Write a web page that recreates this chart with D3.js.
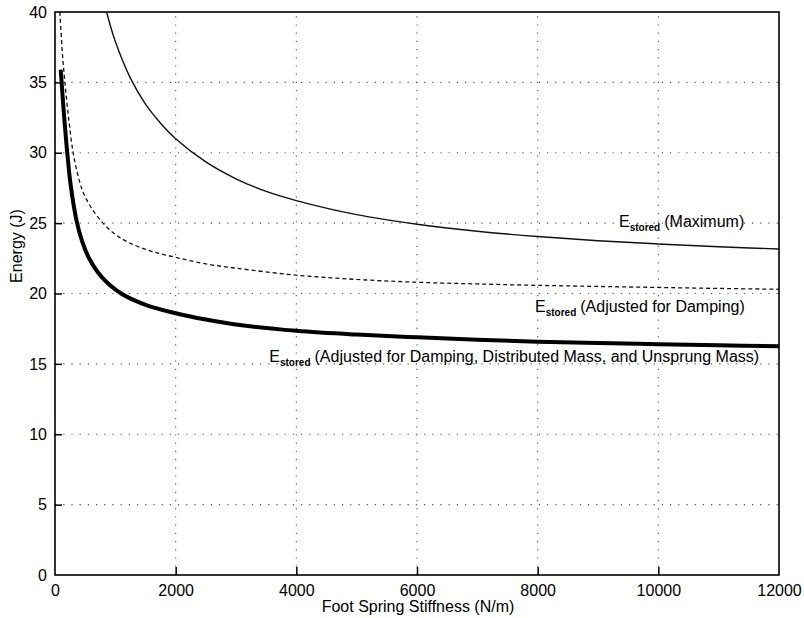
<!DOCTYPE html>
<html>
<head>
<meta charset="utf-8">
<script src="https://cdn.jsdelivr.net/npm/d3@7"></script>
<style>
  html, body { margin: 0; padding: 0; background: #fff; }
  svg { display: block; font-family: "Liberation Sans", Arial, Helvetica, sans-serif; }
</style>
</head>
<body>
<svg id="chart" width="804" height="618"></svg>
<script>
// Foot spring stiffness (N/m) and stored energy (J) for three estimates
const maxK = [855, 1000, 1250, 1500, 1750, 2000, 2500, 3000, 3500, 4000, 5000, 6000, 7000, 8000, 9000, 10000, 11000, 12000];
const maxE = [40, 37.9, 35.3, 33.45, 32.1, 31.0, 29.35, 28.15, 27.25, 26.6, 25.6, 24.92, 24.42, 24.05, 23.75, 23.52, 23.32, 23.16];

const dampK = [80, 120, 164, 230, 301, 380, 466, 600, 795, 1000, 1234, 1600, 2000, 2500, 3000, 4000, 5000, 6000, 7000, 8000, 9000, 10000, 11000, 12000];
const dampE = [40, 37.2, 35, 32.3, 30, 28.4, 27.2, 26.1, 25, 24.2, 23.6, 23.0, 22.57, 22.1, 21.8, 21.3, 21.0, 20.8, 20.68, 20.58, 20.5, 20.43, 20.36, 20.3];

const fullK = [94, 110, 140, 203, 263, 356, 450, 565, 768, 1096, 1500, 2000, 2500, 3000, 4000, 5000, 6000, 7000, 8000, 9000, 10000, 11000, 12000];
const fullE = [35.9, 35, 33.2, 30, 27.6, 25.2, 23.7, 22.5, 21.2, 20.0, 19.2, 18.6, 18.15, 17.8, 17.35, 17.08, 16.89, 16.72, 16.58, 16.48, 16.4, 16.32, 16.25];

const xTicks = [0, 2000, 4000, 6000, 8000, 10000, 12000];
const yTicks = [0, 5, 10, 15, 20, 25, 30, 35, 40];

const labelMain = ["E", "E", "E"];
const labelSub = ["stored", "stored", "stored"];
const labelRest = ["(Maximum)", "(Adjusted for Damping)", "(Adjusted for Damping, Distributed Mass, and Unsprung Mass)"];
// anchor of each annotation: [stiffness, energy] at the start of its baseline
const labelAt = [[9348, 24.72], [7956, 18.71], [3552, 15.1]];

const svg = d3.select("#chart");
const L = 55, R = 779, T = 12, B = 575;

const x = d3.scaleLinear().domain([0, 12000]).range([L, R]);
const y = d3.scaleLinear().domain([0, 40]).range([B, T]);

// dotted grid
const grid = svg.append("g").attr("stroke", "#555").attr("stroke-width", 1.1)
  .attr("stroke-dasharray", "1.2,7");
grid.selectAll(".gx").data(xTicks.slice(1, -1)).join("line")
  .attr("x1", d => x(d)).attr("x2", d => x(d)).attr("y1", B).attr("y2", T);
grid.selectAll(".gy").data(yTicks.slice(1, -1)).join("line")
  .attr("y1", d => y(d)).attr("y2", d => y(d)).attr("x1", L).attr("x2", R);

// clip curves to the plot box
svg.append("clipPath").attr("id", "plotclip").append("rect")
  .attr("x", L).attr("y", T).attr("width", R - L).attr("height", B - T);

const line = d3.line().x(d => x(d[0])).y(d => y(d[1])).curve(d3.curveCatmullRom.alpha(0.5));
const curves = svg.append("g").attr("clip-path", "url(#plotclip)").attr("fill", "none");

curves.append("path").datum(d3.zip(maxK, maxE)).attr("d", line)
  .attr("stroke", "#111").attr("stroke-width", 1.4);
curves.append("path").datum(d3.zip(dampK, dampE)).attr("d", line)
  .attr("stroke", "#111").attr("stroke-width", 1.3).attr("stroke-dasharray", "4,3");
curves.append("path").datum(d3.zip(fullK, fullE)).attr("d", line)
  .attr("stroke", "#000").attr("stroke-width", 4);

// axes with inward ticks
const xAxis = d3.axisBottom(x).tickValues(xTicks).tickSize(-8).tickPadding(10).tickFormat(d3.format("d"));
const yAxis = d3.axisLeft(y).tickValues(yTicks).tickSize(-7).tickPadding(8).tickFormat(d3.format("d"));

const gx = svg.append("g").attr("transform", `translate(0,${B})`).call(xAxis);
const gy = svg.append("g").attr("transform", `translate(${L},0)`).call(yAxis);
[gx, gy].forEach(g => {
  g.select(".domain").remove();
  g.selectAll(".tick line").attr("stroke", "#000").attr("stroke-width", 1.5);
  g.selectAll(".tick text").attr("fill", "#000").style("font-size", "16px")
    .style("font-family", "'Liberation Sans', Arial, sans-serif");
});
gx.selectAll(".tick line").filter(d => d === 0 || d === 12000).remove();
gy.selectAll(".tick line").filter(d => d === 0 || d === 40).remove();

// plot box
svg.append("rect").attr("x", L).attr("y", T).attr("width", R - L).attr("height", B - T)
  .attr("fill", "none").attr("stroke", "#000").attr("stroke-width", 1.6);

// axis titles
svg.append("text").attr("x", 418).attr("y", 612).attr("text-anchor", "middle")
  .style("font-size", "16px").text("Foot Spring Stiffness (N/m)");
svg.append("text").attr("transform", "translate(22,246) rotate(-90)").attr("text-anchor", "middle")
  .style("font-size", "16px").text("Energy (J)");

// curve annotations: E with subscript "stored"
labelRest.forEach((rest, i) => {
  const t = svg.append("text").attr("x", x(labelAt[i][0])).attr("y", y(labelAt[i][1]))
    .style("font-size", "16px").attr("fill", "#000");
  t.append("tspan").text(labelMain[i]);
  t.append("tspan").attr("dy", 4).style("font-size", "10px").style("font-weight", "bold").text(labelSub[i]);
  t.append("tspan").attr("dy", -4).attr("dx", 4).text(rest);
});
</script>
</body>
</html>
